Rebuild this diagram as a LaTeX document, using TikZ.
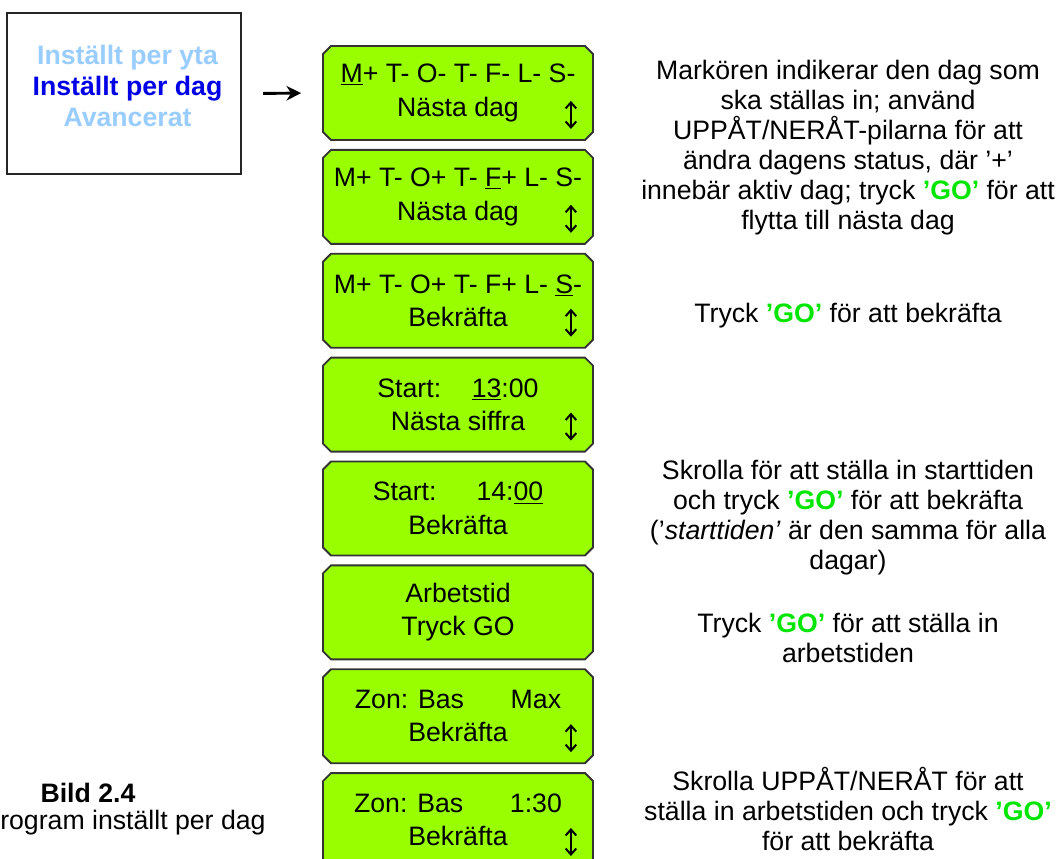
\documentclass[tikz,border=0pt]{standalone}
\usepackage{fontspec}
\setmainfont{Liberation Sans}
\usepackage{xcolor}
\usepackage{tikz}
\usetikzlibrary{positioning, arrows.meta, shapes.misc, calc}
\definecolor{lcdgreen}{RGB}{153,255,0}
\definecolor{gogreen}{RGB}{0,230,0}
\definecolor{menulight}{RGB}{153,204,255}
\definecolor{menudark}{RGB}{0,0,230}
\newcommand{\gokey}{\textcolor{gogreen}{\textbf{’GO’}}}

\begin{document}
\begin{tikzpicture}[x=0.75pt, y=-0.75pt, node distance=6pt]
        \tikzstyle{menu} = [rectangle, draw=black!85, line width=1.6pt, minimum width=175.5pt, minimum height=120.75pt]
        \tikzstyle{menutext} = [align=center, font=\fontsize{20}{23}\selectfont\bfseries]
        \tikzstyle{lcd} = [chamfered rectangle, chamfered rectangle xsep=3pt, chamfered rectangle ysep=3pt, draw=black!80, line width=1.4pt, fill=lcdgreen, minimum width=202.5pt, minimum height=70.5pt, inner sep=1pt, align=center, font=\fontsize{20}{25}\selectfont]
        \tikzstyle{note} = [align=center, font=\fontsize{20}{22.5}\selectfont]
        \tikzstyle{arrow} = [line width=2.2pt, -{Stealth[length=11pt, width=11pt]}]
        \tikzstyle{updown} = [line width=1.5pt, {Straight Barb[length=4.5pt, width=8pt]}-{Straight Barb[length=4.5pt, width=8pt]}]

        \clip (0,0) rectangle (1058,859);

        \node [menu] (menu) at (124,93.5) {};
        \node [menutext] (menutxt) at ([shift={(3.5,-7.5)}]menu.center) {{\color{menulight}Inställt per yta}\\{\color{menudark}Inställt per dag}\\{\color{menulight}Avancerat}};

        \node [lcd] (b1) at (458,93) {\underline{M}+ T- O- T- F- L- S-\\Nästa dag};
        \node [lcd, below=of b1] (b2) {M+ T- O+ T- \underline{F}+ L- S-\\Nästa dag};
        \node [lcd, below=of b2] (b3) {M+ T- O+ T- F+ L- \underline{S}-\\Bekräfta};
        \node [lcd, below=of b3] (b4) {Start:\hspace{1.15em}\underline{13}:00\\Nästa siffra};
        \node [lcd, below=of b4] (b5) {Start:\hspace{1.5em}14:\underline{00}\\Bekräfta};
        \node [lcd, below=of b5] (b6) {Arbetstid\\Tryck GO};
        \node [lcd, below=of b6] (b7) {Zon: Bas\hspace{1.75em}Max\\Bekräfta};
        \node [lcd, below=of b7] (b8) {Zon: Bas\hspace{1.75em}1:30\\Bekräfta};

        \foreach \b in {b1,b2,b3,b4,b7,b8}
            \draw [updown] ($(\b.south -| \b.east)+(-23,-12)$) -- ($(\b.south -| \b.east)+(-23,-40)$);

        \draw [arrow, shorten <=15.75pt, shorten >=15.75pt] (menu.east) -- (b1.west);

        \node [note] (n1) at (848,148) {Markören indikerar den dag som\\ska ställas in; använd\\UPPÅT/NERÅT-pilarna för att\\ändra dagens status, där ’+’\\innebär aktiv dag; tryck \gokey{} för att\\flytta till nästa dag};
        \node [note] (n2) at (848,316) {Tryck \gokey{} för att bekräfta};
        \node [note] (n3) at (848,518) {Skrolla för att ställa in starttiden\\och tryck \gokey{} för att bekräfta\\(’\textit{starttiden’} är den samma för alla\\dagar)};
        \node [note] (n4) at (848,638) {Tryck \gokey{} för att ställa in\\arbetstiden};
        \node [note] (n5) at (848,809) {Skrolla UPPÅT/NERÅT för att\\ställa in arbetstiden och tryck \gokey\\för att bekräfta};

        \node [note, font=\fontsize{20}{22.5}\selectfont\bfseries] (bild) at (88,793) {Bild 2.4};
        \node [note, anchor=west, inner sep=0pt] (bildtext) at (0,823) {rogram inställt per dag};
    \end{tikzpicture}
\end{document}
